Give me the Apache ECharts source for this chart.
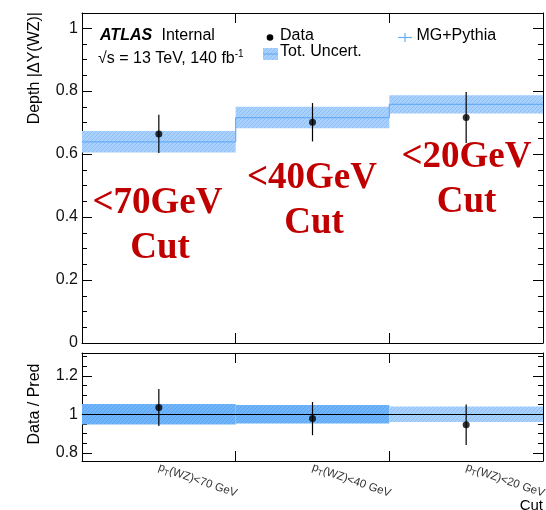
<!DOCTYPE html>
<html>
<head>
<meta charset="utf-8">
<script src="https://cdn.jsdelivr.net/npm/echarts@6/dist/echarts.min.js"></script>
<style>
  html, body { margin: 0; padding: 0; background: #fff; }
  #chart { width: 546px; height: 510px; }
</style>
</head>
<body>
<div id="chart"></div>
<script>
// Bins (pT(WZ) cut) and measured / predicted depth of |ΔY(WZ)|
const categories = ['p_T(WZ)<70 GeV', 'p_T(WZ)<40 GeV', 'p_T(WZ)<20 GeV'];
const cutTitles = ['<70GeV', '<40GeV', '<20GeV'];
const dataDepth = [0.664, 0.701, 0.716];
const dataErr = [0.061, 0.061, 0.081];
const mcDepth = [0.639, 0.716, 0.758];
const mcErr = [0.034, 0.034, 0.029];
// Ratio panel
const ratioValues = [1.035, 0.978, 0.946];
const ratioErr = [0.096, 0.086, 0.105];
const ratioBandErr = [0.053, 0.048, 0.040];
// Tick labels
const mainTicks = [0, 0.2, 0.4, 0.6, 0.8, 1];
const mainMinorTicks = [0.05, 0.1, 0.15, 0.25, 0.3, 0.35, 0.45, 0.5, 0.55, 0.65, 0.7, 0.75, 0.85, 0.9, 0.95];
const ratioTicks = [0.8, 1, 1.2];
const ratioMinorTicks = [0.85, 0.9, 0.95, 1.05, 1.1, 1.15, 1.25, 1.3];

const SANS = '"Liberation Sans", Arial, Helvetica, sans-serif';
const SERIF = '"Liberation Serif", "Times New Roman", serif';
const BAND = '#a9d1fc';
const BAND_DARK = '#70b5fa';
const MC_LINE = '#67acf5';

function hatch(base, line) {
  const c = document.createElement('canvas');
  c.width = 4; c.height = 4;
  const g = c.getContext('2d');
  g.fillStyle = base; g.fillRect(0, 0, 4, 4);
  g.strokeStyle = line; g.lineWidth = 0.8;
  g.beginPath(); g.moveTo(0, 4); g.lineTo(4, 0); g.stroke();
  return { image: c, repeat: 'repeat' };
}
const bandFill = hatch(BAND, 'rgba(90,160,240,0.45)');
const bandDarkFill = hatch(BAND_DARK, 'rgba(60,140,235,0.5)');

const chart = echarts.init(document.getElementById('chart'), null, { renderer: 'canvas' });

const GRID_MAIN = { left: 82, top: 13, width: 461, height: 330, outerBoundsMode: 'none', containLabel: false };
const GRID_RATIO = { left: 82, top: 353, width: 461, height: 108, outerBoundsMode: 'none', containLabel: false };

function xAxis(gridIndex, position, showLabels) {
  return {
    type: 'category', gridIndex, position, data: categories, boundaryGap: true,
    axisLine: { show: true, onZero: false, lineStyle: { color: '#000', width: 1 } },
    axisTick: { show: true, inside: true, length: 10, lineStyle: { color: '#000' } },
    axisLabel: showLabels ? {
      show: true, rotate: -19, margin: 6, color: '#333', fontFamily: SANS, fontSize: 11.5,
      formatter: v => {
        const rest = v.replace('p_T', '');
        return '{p|p}{sub|T}{t|' + rest + '}';
      },
      rich: {
        p: { fontSize: 11.5, fontFamily: SANS, color: '#333' },
        sub: { fontSize: 8, fontFamily: SANS, color: '#333', padding: [7, 0, 0, 0] },
        t: { fontSize: 11.5, fontFamily: SANS, color: '#333' }
      }
    } : { show: false },
    splitLine: { show: false }
  };
}

function yAxis(gridIndex, position, min, max, ticks, len, labels, line) {
  return {
    type: 'value', gridIndex, position, min, max,
    axisLine: { show: line, onZero: false, lineStyle: { color: '#000', width: 1 } },
    axisTick: { show: true, inside: true, length: len, customValues: ticks, lineStyle: { color: '#000' } },
    axisLabel: labels ? {
      show: true, customValues: ticks, margin: 4, color: '#111', fontFamily: SANS, fontSize: 16,
      formatter: v => String(Math.round(v * 10) / 10)
    } : { show: false },
    splitLine: { show: false }
  };
}

function bandItem(fillFor, drawLine) {
  return function (params, api) {
    const i = api.value(0), c = api.value(1), e = api.value(2);
    const w = api.size([1, 0])[0];
    const top = api.coord([i, c + e]);
    const bot = api.coord([i, c - e]);
    const mid = api.coord([i, c]);
    const x0 = mid[0] - w / 2;
    const children = [{
      type: 'rect',
      shape: { x: x0, y: top[1], width: w, height: bot[1] - top[1] },
      style: { fill: fillFor(i), stroke: null }
    }];
    if (drawLine) {
      children.push({
        type: 'line', shape: { x1: x0, y1: mid[1], x2: x0 + w, y2: mid[1] },
        style: { stroke: MC_LINE, lineWidth: 1.2 }
      });
      if (i > 0) {
        const prev = api.coord([i - 1, mcDepth[i - 1]]);
        children.push({
          type: 'line', shape: { x1: x0, y1: prev[1], x2: x0, y2: mid[1] },
          style: { stroke: MC_LINE, lineWidth: 1.2 }
        });
      }
    }
    return { type: 'group', children };
  };
}

function errorBarItem(params, api) {
  const i = api.value(0), v = api.value(1), e = api.value(2);
  const hi = api.coord([i, v + e]);
  const lo = api.coord([i, v - e]);
  return {
    type: 'line', shape: { x1: hi[0], y1: hi[1], x2: lo[0], y2: lo[1] },
    style: { stroke: '#000', lineWidth: 1.2 }
  };
}

const mainBand = mcDepth.map((v, i) => [i, v, mcErr[i]]);
const ratioBand = ratioBandErr.map((e, i) => [i, 1, e]);
const mainErrors = dataDepth.map((v, i) => [i, v, dataErr[i]]);
const ratioErrors = ratioValues.map((v, i) => [i, v, ratioErr[i]]);

// Text drawn on top of the plot
const graphics = [];
function txt(x, y, text, opts) {
  graphics.push(Object.assign({
    type: 'text', x, y, z: 100,
    style: Object.assign({ text, fill: '#000', font: '16px ' + SANS, align: 'left', verticalAlign: 'middle' }, opts || {})
  }));
}
// Header block
txt(100, 36, 'ATLAS', { font: 'italic bold 16px ' + SANS });
txt(161.5, 36, 'Internal');
graphics.push({
  type: 'text', x: 98, y: 59, z: 100,
  style: {
    text: '{a|√s = 13 TeV, 140 fb}{s|-1}', verticalAlign: 'middle', align: 'left',
    rich: {
      a: { font: '16px ' + SANS, fill: '#000', color: '#000' },
      s: { fontSize: 10, fontFamily: SANS, color: '#000', padding: [0, 0, 10, 0] }
    }
  }
});
// Legend
graphics.push({ type: 'circle', z: 100, shape: { cx: 270, cy: 37.5, r: 3.3 }, style: { fill: '#000' } });
txt(280, 36, 'Data');
graphics.push({ type: 'rect', z: 100, shape: { x: 263, y: 48, width: 15, height: 12 }, style: { fill: bandFill } });
graphics.push({ type: 'line', z: 100, shape: { x1: 263, y1: 54, x2: 278, y2: 54 }, style: { stroke: MC_LINE, lineWidth: 1.2 } });
txt(280, 52, 'Tot. Uncert.');
graphics.push({ type: 'line', z: 100, shape: { x1: 398, y1: 37.5, x2: 412, y2: 37.5 }, style: { stroke: MC_LINE, lineWidth: 1.2 } });
graphics.push({ type: 'line', z: 100, shape: { x1: 405, y1: 33, x2: 405, y2: 42 }, style: { stroke: MC_LINE, lineWidth: 1.2 } });
txt(416.5, 36, 'MG+Pythia');
// Axis titles
graphics.push({
  type: 'text', x: 35, y: 12, rotation: Math.PI / 2, z: 100,
  style: { text: 'Depth |ΔY(WZ)|', font: '16px ' + SANS, fill: '#000', align: 'right', verticalAlign: 'middle' }
});
graphics.push({
  type: 'text', x: 35, y: 404, rotation: Math.PI / 2, z: 100,
  style: { text: 'Data / Pred', font: '16px ' + SANS, fill: '#000', align: 'center', verticalAlign: 'middle' }
});
txt(543, 506, 'Cut', { align: 'right', font: '15px ' + SANS });
// Cut annotations in each bin
const annot = [
  { x: 157.5, y1: 203.5, x2: 160, y2: 248.5 },
  { x: 312, y1: 178.5, x2: 314, y2: 223.5 },
  { x: 466.5, y1: 157, x2: 466.5, y2: 202 }
];
cutTitles.forEach((t, i) => {
  const a = annot[i];
  txt(a.x, a.y1, t, { align: 'center', font: 'bold 37px ' + SERIF, fill: '#c00000' });
  txt(a.x2, a.y2, 'Cut', { align: 'center', font: 'bold 37px ' + SERIF, fill: '#c00000' });
});

const option = {
  animation: false,
  backgroundColor: '#fff',
  textStyle: { fontFamily: SANS },
  grid: [GRID_MAIN, GRID_RATIO],
  xAxis: [
    xAxis(0, 'bottom', false),
    xAxis(0, 'top', false),
    xAxis(1, 'bottom', true),
    xAxis(1, 'top', false)
  ],
  yAxis: [
    yAxis(0, 'left', 0, 1.048, mainTicks, 10, true, true),
    yAxis(0, 'left', 0, 1.048, mainMinorTicks, 5, false, false),
    yAxis(0, 'right', 0, 1.048, mainTicks, 10, false, true),
    yAxis(0, 'right', 0, 1.048, mainMinorTicks, 5, false, false),
    yAxis(1, 'left', 0.758, 1.318, ratioTicks, 10, true, true),
    yAxis(1, 'left', 0.758, 1.318, ratioMinorTicks, 5, false, false),
    yAxis(1, 'right', 0.758, 1.318, ratioTicks, 10, false, true),
    yAxis(1, 'right', 0.758, 1.318, ratioMinorTicks, 5, false, false)
  ],
  graphic: graphics,
  series: [
    {
      name: 'MG+Pythia', type: 'custom', xAxisIndex: 0, yAxisIndex: 0, z: 2,
      renderItem: bandItem(() => bandFill, true), data: mainBand, silent: true
    },
    {
      name: 'Data err', type: 'custom', xAxisIndex: 0, yAxisIndex: 0, z: 3,
      renderItem: errorBarItem, data: mainErrors, silent: true
    },
    {
      name: 'Data', type: 'scatter', xAxisIndex: 0, yAxisIndex: 0, z: 4,
      symbol: 'circle', symbolSize: 7, itemStyle: { color: '#000' },
      data: dataDepth.map((v, i) => [i, v]), silent: true
    },
    {
      name: 'Ratio band', type: 'custom', xAxisIndex: 2, yAxisIndex: 4, z: 2,
      renderItem: bandItem(i => (i < 2 ? bandDarkFill : bandFill), false), data: ratioBand, silent: true
    },
    {
      name: 'Ratio err', type: 'custom', xAxisIndex: 2, yAxisIndex: 4, z: 3,
      renderItem: errorBarItem, data: ratioErrors, silent: true
    },
    {
      name: 'Ratio', type: 'scatter', xAxisIndex: 2, yAxisIndex: 4, z: 4,
      symbol: 'circle', symbolSize: 7, itemStyle: { color: '#000' },
      data: ratioValues.map((v, i) => [i, v]), silent: true,
      markLine: {
        silent: true, symbol: 'none', label: { show: false },
        lineStyle: { color: '#000', type: 'solid', width: 1 },
        data: [{ yAxis: 1 }]
      }
    }
  ]
};
chart.setOption(option);
</script>
</body>
</html>
